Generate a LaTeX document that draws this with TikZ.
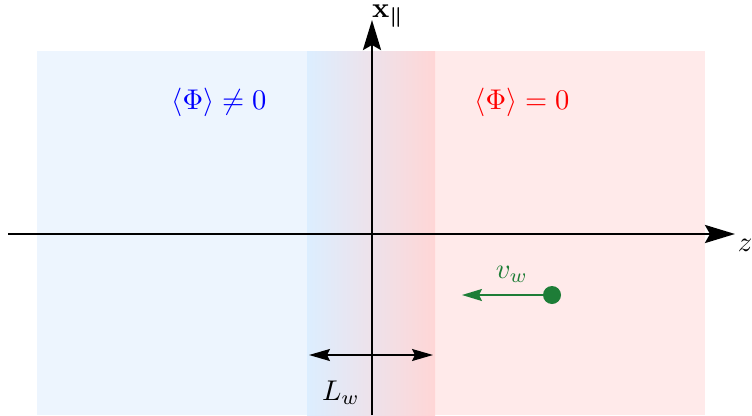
\documentclass[tikz,border=0pt]{standalone}
\usepackage{amsmath}
\usetikzlibrary{arrows.meta}
\definecolor{bluereg}{RGB}{237,245,254}
\definecolor{pinkreg}{RGB}{255,234,234}
\definecolor{bluegrad}{RGB}{220,238,255}
\definecolor{redgrad}{RGB}{255,214,214}
\definecolor{wallgreen}{RGB}{30,125,55}
\begin{document}
\begin{tikzpicture}[x=1pt,y=-1pt,
  axis/.style={line width=2.8pt,-{Stealth[length=30pt,width=18pt,inset=5pt]}},
  bigtxt/.style={scale=2.85, inner sep=0pt},
  lwarrow/.style={line width=1.6pt,{Stealth[length=21pt,width=12pt,inset=3pt]}-{Stealth[length=21pt,width=12pt,inset=3pt]}},
  garrow/.style={wallgreen,line width=1.6pt,-{Stealth[length=20pt,width=12pt,inset=3pt]}}]
\useasboundingbox (0,0) rectangle (752,415);
% regions
\fill[bluereg] (37,51) rectangle (307,415);
\fill[pinkreg] (435,51) rectangle (705,415);
\shade[left color=bluegrad,right color=redgrad] (307,51) rectangle (435,415);
% axes
\coordinate (ybot) at (372,415);
\coordinate (ytop) at (372,20);
\coordinate (xl) at (8,234);
\coordinate (xr) at (735,234);
\draw[axis] (ybot) -- (ytop);
\draw[axis] (xl) -- (xr);
\node[bigtxt] (xpar) at (388,16) {$\mathbf{x}_{\boldsymbol{\parallel}}$};
\node[bigtxt] (zlab) at (745,245) {$z$};
% region labels
\node[bigtxt,text=blue] (broken) at (219,102) {$\langle\Phi\rangle \neq 0$};
\node[bigtxt,text=red] (sym) at (522,102) {$\langle\Phi\rangle = 0$};
% wall width
\coordinate (lwl) at (309,355);
\coordinate (lwr) at (433,355);
\draw[lwarrow] (lwl) -- (lwr);
\node[bigtxt] (lw) at (341,393) {$L_w$};
% wall velocity
\node[circle,fill=wallgreen,minimum size=18pt,inner sep=0pt] (dot) at (552,295) {};
\coordinate (vend) at (462,295);
\draw[garrow] (dot.center) -- (vend);
\node[bigtxt,text=wallgreen] (vw) at (512,274) {$v_w$};
\end{tikzpicture}
\end{document}
